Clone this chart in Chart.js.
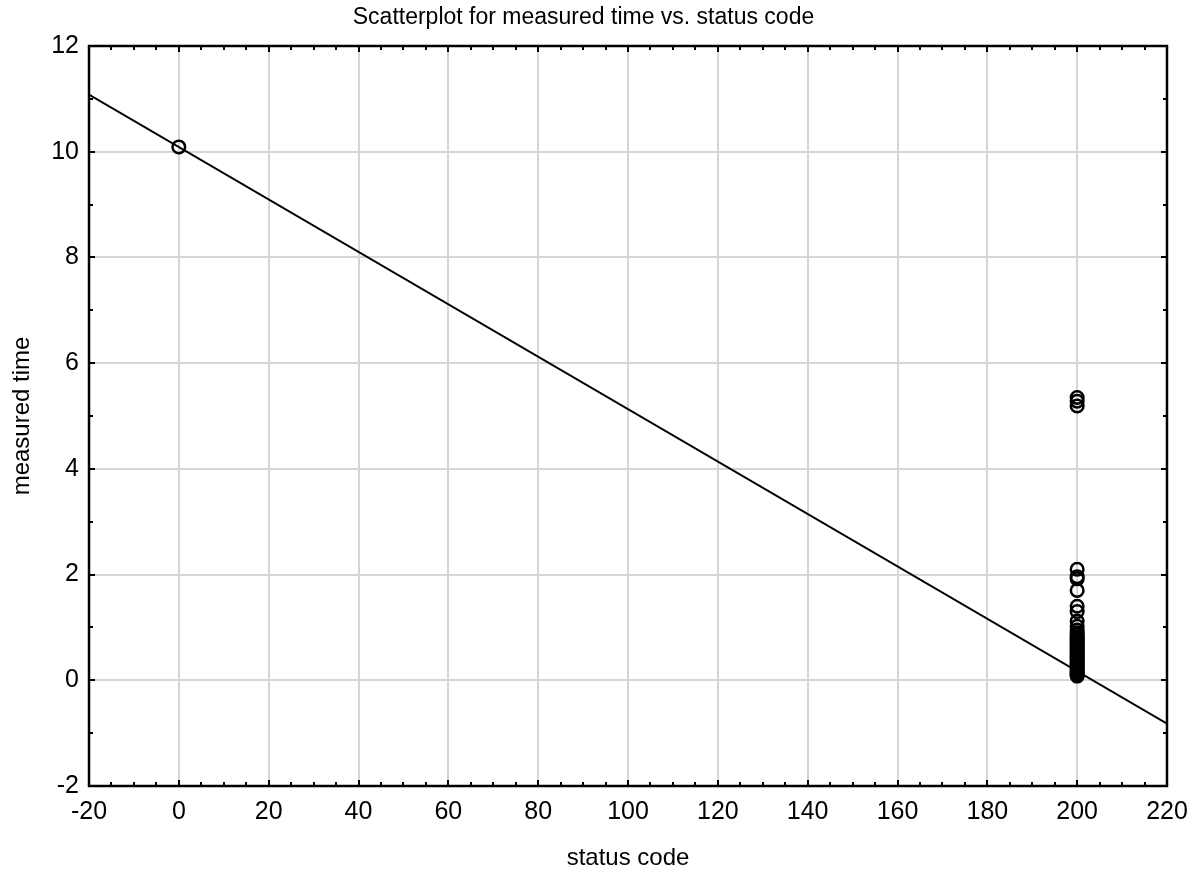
<!DOCTYPE html>
<html>
<head>
<meta charset="utf-8">
<script src="https://cdn.jsdelivr.net/npm/chart.js@4"></script>
<style>
  html, body { margin: 0; padding: 0; background: #fff; }
  #wrap { width: 1196px; height: 874px; }
</style>
</head>
<body>
<div id="wrap"><canvas id="scatter"></canvas></div>
<script>
// dane
const statusCodes0 = [0];
const times0 = [10.09];
const times200 = [5.35, 5.28, 5.19, 2.1, 1.96, 1.92, 1.7, 1.4, 1.3, 1.12, 1.02, 0.95, 0.9, 0.86, 0.82, 0.79, 0.76, 0.73, 0.7, 0.67, 0.64, 0.61, 0.58, 0.55, 0.52, 0.49, 0.46, 0.43, 0.4, 0.37, 0.34, 0.31, 0.28, 0.25, 0.22, 0.19, 0.16, 0.14, 0.12, 0.1, 0.08];
const statusCodes200 = times200.map(() => 200);
const fitX = [-20, 220];
const fitY = [11.08, -0.82];
const xTicks = [-20, 0, 20, 40, 60, 80, 100, 120, 140, 160, 180, 200, 220];
const yTicks = [-2, 0, 2, 4, 6, 8, 10, 12];

const FONT = '"Liberation Sans", Arial, sans-serif';

const pointsData = [
    ...statusCodes0.map((x, i) => ({ x: x, y: times0[i] })),
    ...statusCodes200.map((x, i) => ({ x: x, y: times200[i] }))
];
const lineData = fitX.map((x, i) => ({ x: x, y: fitY[i] }));

// ramka i krótkie znaczniki do wewnątrz
const framePlugin = {
    id: 'frame',
    afterDraw(chart) {
        const { ctx, chartArea: a, scales } = chart;
        ctx.save();
        ctx.strokeStyle = '#000';
        ctx.lineWidth = 2;
        ctx.beginPath();
        for (let v = xTicks[0]; v <= xTicks[xTicks.length - 1]; v += 5) {
            const px = Math.round(scales.x.getPixelForValue(v));
            const len = (v % 20 === 0) ? 6 : 4;
            ctx.moveTo(px, a.top); ctx.lineTo(px, a.top + len);
            ctx.moveTo(px, a.bottom); ctx.lineTo(px, a.bottom - len);
        }
        for (let v = yTicks[0]; v <= yTicks[yTicks.length - 1]; v += 1) {
            const py = Math.round(scales.y.getPixelForValue(v));
            const len = (v % 2 === 0) ? 6 : 4;
            ctx.moveTo(a.left, py); ctx.lineTo(a.left + len, py);
            ctx.moveTo(a.right, py); ctx.lineTo(a.right - len, py);
        }
        ctx.stroke();
        ctx.lineWidth = 2.5;
        ctx.strokeRect(a.left, a.top, a.right - a.left, a.bottom - a.top);
        ctx.restore();
    }
};

const ctx = document.getElementById('scatter').getContext('2d');
new Chart(ctx, {
    type: 'scatter',
    data: {
        datasets: [
            {
                label: 'fit',
                type: 'line',
                data: lineData,
                borderColor: '#000',
                borderWidth: 1.8,
                pointRadius: 0,
                fill: false,
                order: 2
            },
            {
                label: 'measured time',
                data: pointsData,
                pointStyle: 'circle',
                pointRadius: 6.3,
                pointBorderWidth: 2.5,
                pointBorderColor: '#000',
                pointBackgroundColor: 'rgba(0,0,0,0)',
                order: 1
            }
        ]
    },
    options: {
        responsive: true,
        maintainAspectRatio: false,
        animation: false,
        layout: { padding: { left: 0, right: 29, top: 0, bottom: 0 } },
        plugins: {
            legend: { display: false },
            tooltip: { enabled: false },
            title: {
                display: true,
                text: 'Scatterplot for measured time vs. status code',
                color: '#000',
                font: { family: FONT, size: 23, weight: 'normal', lineHeight: 1.2 },
                padding: { top: 4, bottom: 14.4 }
            }
        },
        scales: {
            x: {
                type: 'linear',
                min: -20,
                max: 220,
                afterBuildTicks: (s) => { s.ticks = xTicks.map(v => ({ value: v })); },
                afterFit: (s) => { s.height = 88; s.paddingRight = 0; },
                grid: { color: '#d6d6d6', lineWidth: 2, drawTicks: false },
                border: { display: false },
                ticks: {
                    color: '#000',
                    padding: 11,
                    font: { family: FONT, size: 25 },
                    maxRotation: 0
                },
                title: {
                    display: true,
                    text: 'status code',
                    color: '#000',
                    font: { family: FONT, size: 24 },
                    padding: { top: 0, bottom: 1 }
                }
            },
            y: {
                type: 'linear',
                min: -2,
                max: 12,
                afterBuildTicks: (s) => { s.ticks = yTicks.map(v => ({ value: v })); },
                afterFit: (s) => { s.width = 89; },
                grid: { color: '#d6d6d6', lineWidth: 2, drawTicks: false },
                border: { display: false },
                ticks: {
                    color: '#000',
                    padding: 10,
                    font: { family: FONT, size: 25 }
                },
                title: {
                    display: true,
                    text: 'measured time',
                    color: '#000',
                    font: { family: FONT, size: 24 },
                    padding: { top: 8, bottom: 0 }
                }
            }
        }
    },
    plugins: [framePlugin]
});
</script>
</body>
</html>
